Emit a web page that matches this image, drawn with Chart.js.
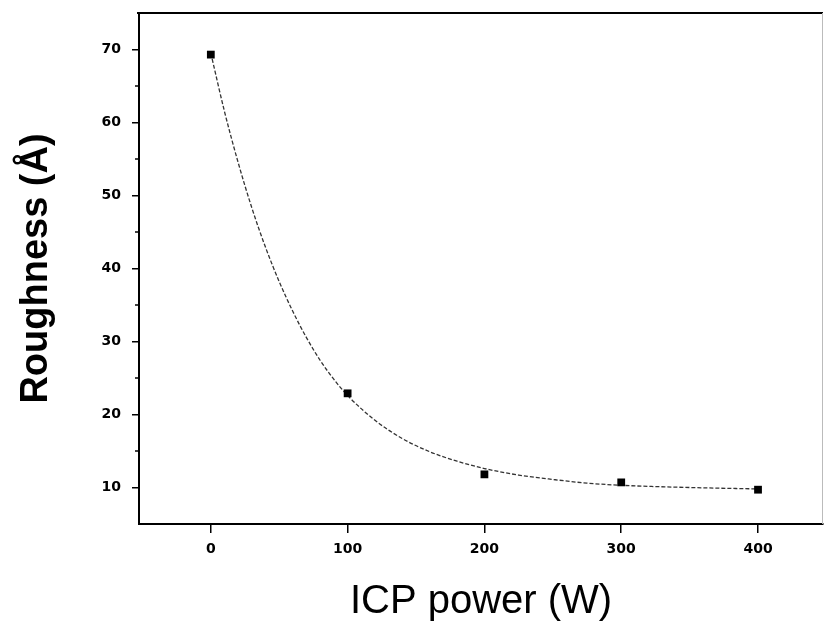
<!DOCTYPE html>
<html><head><meta charset="utf-8">
<script src="https://cdn.jsdelivr.net/npm/chart.js@4"></script>
<style>html,body{margin:0;padding:0;background:#fff}#wrap{width:825px;height:636px}</style>
</head><body><div id="wrap"><canvas id="c" width="825" height="636"></canvas></div>
<script>
// Measured points
const powerW = [0, 100, 200, 300, 400];
const roughnessA = [69.3, 22.9, 11.8, 10.7, 9.7];
// Fitted curve
const fitPowerW = [0, 10, 20, 30, 40, 50, 60, 70, 80, 90, 100, 120, 140, 160, 180, 200, 225, 250, 275, 300, 350, 400];
const fitRoughnessA = [69.5, 61.5, 54.5, 48.3, 42.9, 38.2, 34.1, 30.5, 27.4, 24.8, 22.6, 19.2, 16.7, 14.9, 13.6, 12.6, 11.7, 11.1, 10.6, 10.3, 10.0, 9.8];
// Axis ticks
const xTickValues = [0, 100, 200, 300, 400];
const yTickValues = [10, 20, 30, 40, 50, 60, 70];
const yMinorTickValues = [15, 25, 35, 45, 55, 65];

const pointsData = powerW.map((x, i) => ({x, y: roughnessA[i]}));
const fitData = fitPowerW.map((x, i) => ({x, y: fitRoughnessA[i]}));

const framePlugin = {
  id: 'frame',
  afterDraw(chart) {
    const {ctx, chartArea: a, scales: {y}} = chart;
    ctx.save();
    ctx.strokeStyle = '#000';
    ctx.lineWidth = 2;
    ctx.beginPath(); ctx.moveTo(a.left - 2, a.top); ctx.lineTo(a.right, a.top); ctx.stroke();
    ctx.strokeStyle = '#bbb';
    ctx.lineWidth = 1;
    ctx.beginPath(); ctx.moveTo(a.right - 0.5, a.top); ctx.lineTo(a.right - 0.5, a.bottom); ctx.stroke();
    ctx.strokeStyle = '#000';
    ctx.lineWidth = 1.5;
    yMinorTickValues.forEach(v => {
      const py = y.getPixelForValue(v);
      ctx.beginPath(); ctx.moveTo(a.left - 4, py); ctx.lineTo(a.left, py); ctx.stroke();
    });
    ctx.restore();
  }
};

new Chart(document.getElementById('c'), {
  type: 'scatter',
  data: {
    datasets: [
      {label: 'fit', data: fitData, showLine: true, borderColor: '#333', borderWidth: 1.3, borderDash: [4, 2], pointRadius: 0, cubicInterpolationMode: 'monotone', order: 2},
      {label: 'Roughness', data: pointsData, showLine: false, pointStyle: 'rect', pointRadius: 5.5, backgroundColor: '#000', borderColor: '#000', borderWidth: 0, order: 1}
    ]
  },
  options: {
    responsive: false, animation: false, devicePixelRatio: 1,
    layout: {autoPadding: false, padding: {left: 0, top: 13, right: 2, bottom: 0}},
    plugins: {legend: {display: false}, tooltip: {enabled: false}},
    scales: {
      x: {
        type: 'linear', min: -52.5, max: 447.5,
        afterBuildTicks: s => { s.ticks = xTickValues.map(v => ({value: v})); },
        afterFit: s => { s.height = 112; s.paddingLeft = 0; s.paddingRight = 0; },
        grid: {display: true, drawOnChartArea: false, drawTicks: true, tickLength: 9, color: '#000', lineWidth: 1.5},
        border: {display: true, color: '#000', width: 2},
        ticks: {color: '#000', padding: 8, maxRotation: 0, font: {family: 'DejaVu Sans', weight: 'bold', size: 14}},
        title: {display: true, text: 'ICP power (W)', color: '#000', font: {family: 'Liberation Sans', size: 40, weight: 'normal', lineHeight: 1}, padding: {top: 0, bottom: 14}}
      },
      y: {
        type: 'linear', min: 5, max: 75,
        afterBuildTicks: s => { s.ticks = yTickValues.map(v => ({value: v})); },
        afterFit: s => { s.width = 139; s.paddingTop = 0; s.paddingBottom = 0; },
        grid: {display: true, drawOnChartArea: false, drawTicks: true, tickLength: 7, color: '#000', lineWidth: 1.5},
        border: {display: true, color: '#000', width: 2},
        ticks: {color: '#000', padding: 11, font: {family: 'DejaVu Sans', weight: 'bold', size: 14}},
        title: {display: true, text: 'Roughness (Å)', color: '#000', font: {family: 'Liberation Sans', size: 38, weight: 'bold', lineHeight: 1}, padding: {top: 18, bottom: 0}}
      }
    }
  },
  plugins: [framePlugin]
});
</script>
</body></html>
